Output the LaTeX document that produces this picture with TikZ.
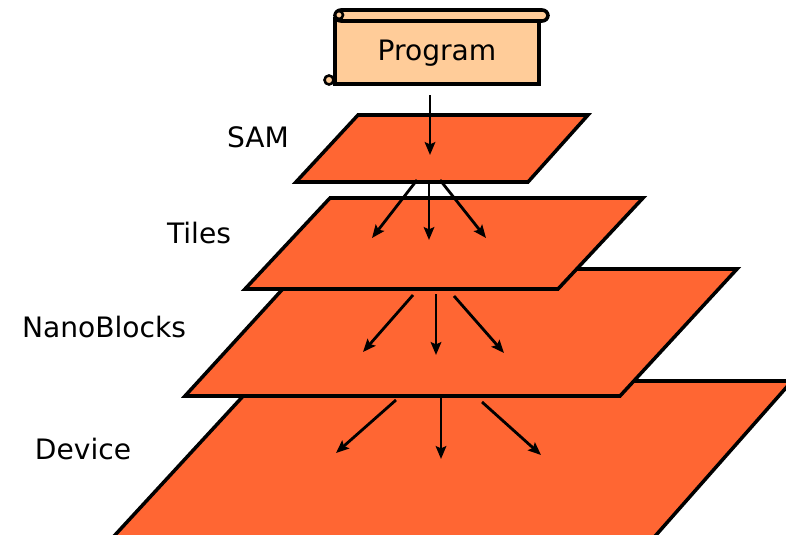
\documentclass[tikz,border=0pt]{standalone}
\usepackage{fontspec}
\setmainfont{DejaVu Sans}
\usetikzlibrary{arrows.meta}
\definecolor{layerorange}{HTML}{FF6633}
\definecolor{scrollpeach}{HTML}{FFCC99}

\begin{document}
\begin{tikzpicture}[x=0.03cm,y=-0.03cm,>={Stealth[length=11pt,width=9pt,inset=2pt]},line join=miter,
  layer/.style={draw,fill=layerorange,line width=3pt},
  level/.style={font=\fontsize{24}{28}\selectfont,anchor=base},
  fan/.style={->,line width=2.4pt}]
\useasboundingbox (0,0) rectangle (786,535);
\clip (0,0) rectangle (786,535);

% the four layers, back to front
\draw[layer] (257,381) -- (792,381) -- (634,560) -- (92,560) -- cycle;
\draw[layer] (301,269) -- (737,269) -- (620,396) -- (185,396) -- cycle;
\draw[layer] (330,198) -- (643,198) -- (558,289) -- (245,289) -- cycle;
\draw[layer] (358,115) -- (588,115) -- (528,182) -- (296,182) -- cycle;

% scroll
\draw[line width=3pt,fill=scrollpeach] (335,19) rectangle (539,84);
\draw[line width=3pt,fill=scrollpeach,rounded corners=5] (335,10) rectangle (548,21);
\draw[line width=2.2pt,fill=scrollpeach] (339,15) circle (4);
\draw[line width=2.2pt,fill=scrollpeach] (329,80) circle (4.5);
\node[level] (prog) at (437,61) {Program};

% labels
\node[level] (sam) at (258,147) {SAM};
\node[level] (tiles) at (199,243) {Tiles};
\node[level] (nano) at (104,337) {NanoBlocks};
\node[level] (dev) at (83,459) {Device};

% arrow ends
\coordinate (prog-out) at (430,95);
\coordinate (sam-in) at (430,155);
\coordinate (sam-l) at (417,180);
\coordinate (sam-m) at (429,180);
\coordinate (sam-r) at (440,180);
\coordinate (tiles-l) at (372,238);
\coordinate (tiles-m) at (429,240);
\coordinate (tiles-r) at (486,238);
\coordinate (tiles-ol) at (413,295);
\coordinate (tiles-om) at (436,294);
\coordinate (tiles-or) at (454,296);
\coordinate (nano-l) at (363,352);
\coordinate (nano-m) at (436,355);
\coordinate (nano-r) at (504,353);
\coordinate (nano-ol) at (396,400);
\coordinate (nano-om) at (441,397);
\coordinate (nano-or) at (482,402);
\coordinate (dev-l) at (336,453);
\coordinate (dev-m) at (441,459);
\coordinate (dev-r) at (541,455);

\draw[fan] (prog-out) -- (sam-in);
\draw[fan] (sam-l) -- (tiles-l);
\draw[fan] (sam-m) -- (tiles-m);
\draw[fan] (sam-r) -- (tiles-r);
\draw[fan] (tiles-ol) -- (nano-l);
\draw[fan] (tiles-om) -- (nano-m);
\draw[fan] (tiles-or) -- (nano-r);
\draw[fan] (nano-ol) -- (dev-l);
\draw[fan] (nano-om) -- (dev-m);
\draw[fan] (nano-or) -- (dev-r);
\end{tikzpicture}
\end{document}
